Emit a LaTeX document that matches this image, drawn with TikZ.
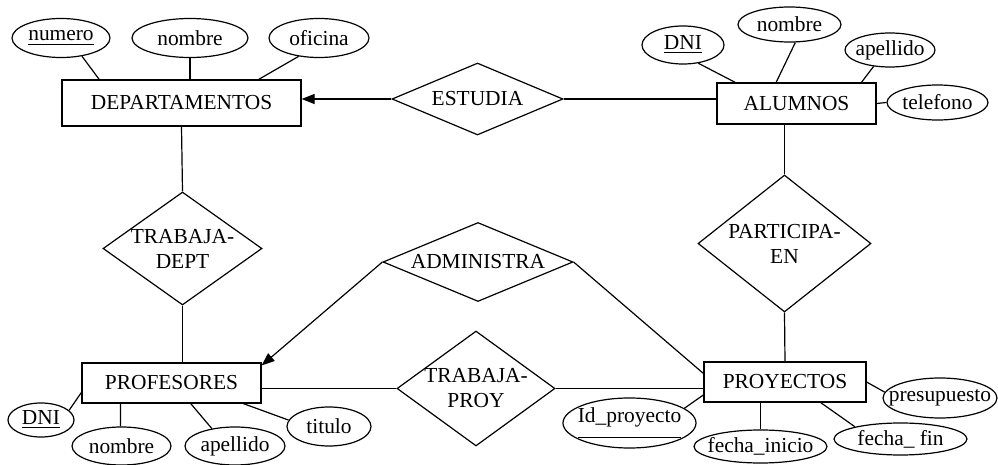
\documentclass[tikz,border=0pt]{standalone}
\usepackage{fontspec}
\setmainfont{Liberation Serif}
\usetikzlibrary{shapes.geometric, arrows.meta}
\tikzset{>={Triangle[length=6.5pt, width=5pt]}}

\begin{document}
\begin{tikzpicture}[x=0.5pt, y=-0.5pt, line width=0.6pt,
  every node/.style={font=\fontsize{10.7}{12.5}\selectfont},
  entity/.style={draw, rectangle, inner sep=0pt},
  relation/.style={draw, diamond, inner sep=0pt},
  attribute/.style={draw, ellipse, inner sep=0pt}]

\useasboundingbox (0,0) rectangle (998,465);

% --- Entities ---
\node[entity, minimum width=119.5pt, minimum height=23pt] (dep) at (181.5,103) {DEPARTAMENTOS};
\node[entity, minimum width=79.5pt, minimum height=20.5pt] (alu) at (796.5,103.5) {ALUMNOS};
\node[entity, minimum width=89.5pt, minimum height=20pt] (prof) at (171.5,383) {PROFESORES};
\node[entity, minimum width=81pt, minimum height=20pt] (proy) at (785,382) {PROYECTOS};

% --- Relationships ---
\node[relation, minimum width=85.5pt, minimum height=36pt, label=center:ESTUDIA] (estudia) at (477.5,99) {};
\node[relation, minimum width=95pt, minimum height=39.5pt, label=center:ADMINISTRA] (adm) at (478,262) {};
\node[relation, minimum width=79.5pt, minimum height=56.5pt,
      label={[align=center]center:TRABAJA-\\DEPT}] (tdept) at (182.5,248.5) {};
\node[relation, minimum width=86.5pt, minimum height=68.5pt,
      label={[align=center]center:PARTICIPA-\\EN}] (part) at (784.5,243.5) {};
\node[relation, minimum width=79pt, minimum height=57.5pt,
      label={[align=center]center:TRABAJA-\\PROY}] (tproy) at (476,388.5) {};

% --- Attributes of DEPARTAMENTOS ---
\node[attribute, minimum width=49pt, minimum height=19.5pt, label=center:\underline{numero}] (numero) at (61,38) {};
\node[attribute, minimum width=58pt, minimum height=19.5pt, label=center:nombre] (nombreD) at (190,38) {};
\node[attribute, minimum width=50pt, minimum height=19.5pt, label=center:oficina] (oficina) at (319,38) {};

% --- Attributes of ALUMNOS ---
\node[attribute, minimum width=41pt, minimum height=19pt, label=center:\underline{DNI}] (dniA) at (683,45) {};
\node[attribute, minimum width=51.5pt, minimum height=17.5pt, label=center:nombre] (nombreA) at (789.5,24.5) {};
\node[attribute, minimum width=45pt, minimum height=17pt, label=center:apellido] (apellidoA) at (890,50) {};
\node[attribute, minimum width=50.5pt, minimum height=17.5pt, label=center:telefono] (telefono) at (937.5,102.5) {};

% --- Attributes of PROFESORES ---
\node[attribute, minimum width=33pt, minimum height=17pt, label=center:\underline{DNI}] (dniP) at (41,420) {};
\node[attribute, minimum width=49.5pt, minimum height=19pt, label=center:nombre] (nombreP) at (121.5,446) {};
\node[attribute, minimum width=50pt, minimum height=19pt, label=center:apellido] (apellidoP) at (235,446) {};
\node[attribute, minimum width=42pt, minimum height=19.5pt, label=center:titulo] (titulo) at (329,426.5) {};

% --- Attributes of PROYECTOS ---
\node[attribute, minimum width=66.5pt, minimum height=25pt,
      label=center:{\underline{Id\_proyecto\rule[-6pt]{0pt}{0pt}}}] (idp) at (629.5,423) {};
\node[attribute, minimum width=66.5pt, minimum height=16.5pt, label=center:fecha\_inicio] (finicio) at (760.5,446.5) {};
\node[attribute, minimum width=66.5pt, minimum height=16pt, label=center:{fecha\_ fin}] (ffin) at (900.5,439) {};
\node[attribute, minimum width=57pt, minimum height=20pt, label=center:presupuesto] (presup) at (940,398) {};

% --- Attribute links ---
\draw (numero.-41) -- (dep.164);
\draw (nombreD.south) -- (nombreD.south |- dep.north);
\draw (oficina.-138) -- (dep.17);
\draw (dniA.-50) -- (alu.161);
\draw (nombreA.-72) -- (alu.134);
\draw (apellidoA.-135) -- (alu.18);
\draw (telefono.west) -- (alu.east);
\draw (dniP.19) -- (prof.186);
\draw (nombreP.93) -- (prof.202);
\draw (apellidoP.143) -- (prof.-47);
\draw (titulo.171) -- (prof.-16);
\draw (idp.15) -- (proy.189);
\draw (finicio.north) -- (finicio.north |- proy.south);
\draw (ffin.165) -- (proy.-30);
\draw (presup.174) -- (proy.east);

% --- Relationship links ---
\draw[->] (estudia.west) -- (estudia.west -| dep.east);
\draw (estudia.east) -- (estudia.east -| alu.west);
\draw (dep.south) -- (tdept.north);
\draw (tdept.south) -- (tdept.south |- prof.north);
\draw (part.north) -- (part.north |- alu.south);
\draw (part.south) -- (proy.north);
\draw[->] (adm.west) -- (prof.11);
\draw (adm.east) -- (proy.174);
\draw (tproy.west) -- (tproy.west -| prof.east);
\draw (tproy.east) -- (tproy.east -| proy.west);

\end{tikzpicture}
\end{document}
